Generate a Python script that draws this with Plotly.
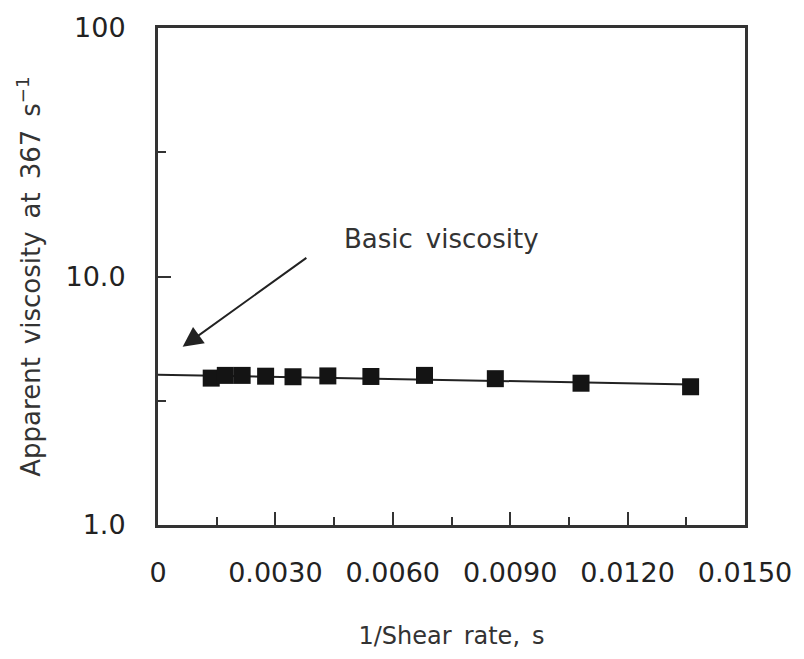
import math
import plotly.graph_objects as go

# Measured apparent viscosity vs reciprocal shear rate
inv_shear_rate = [0.00136, 0.00172, 0.00215, 0.00275, 0.00345, 0.00434,
                  0.00544, 0.00681, 0.00862, 0.01081, 0.01361]
viscosity = [3.90, 4.00, 4.00, 3.97, 3.95, 3.98, 3.96, 4.00, 3.88, 3.72, 3.60]

# Straight-line fit extrapolated to 1/shear rate = 0 (basic viscosity)
fit_x = [0.0, 0.01361]
fit_y = [4.02, 3.68]

x_tick_vals = [0, 0.003, 0.006, 0.009, 0.012, 0.015]
x_tick_text = ["0", "0.0030", "0.0060", "0.0090", "0.0120", "0.0150"]
x_minor_vals = [0.0015, 0.0045, 0.0075, 0.0105, 0.0135]

y_tick_vals = [1, 10, 100]
y_tick_text = ["1.0", "10.0", "100"]
y_minor_vals = [3.1623, 31.623]

# Arrow pointing at the intercept, and its label
arrow_head = (0.00063, 5.21)
arrow_tail = (0.00383, 12.0)
label_pos = (0.00471, 14.1)

FONT = "DejaVu Sans"
INK = "#222222"
AXIS = "#333333"
SP = "\u2002"  # wider word gap


def spaced(s):
    return s.replace(" ", SP)


fig = go.Figure()

fig.add_trace(go.Scatter(
    x=fit_x, y=fit_y, mode="lines",
    line=dict(color=INK, width=2),
    showlegend=False, hoverinfo="skip",
))

fig.add_trace(go.Scatter(
    x=inv_shear_rate, y=viscosity, mode="markers",
    marker=dict(symbol="square", size=17, color="#141414",
                line=dict(width=0)),
    showlegend=False,
))

fig.add_annotation(
    x=arrow_head[0], y=math.log10(arrow_head[1]),
    ax=arrow_tail[0], ay=math.log10(arrow_tail[1]),
    xref="x", yref="y", axref="x", ayref="y",
    showarrow=True, arrowhead=2, arrowsize=2.0, arrowwidth=2,
    arrowcolor=INK, text="",
)

fig.add_annotation(
    x=label_pos[0], y=math.log10(label_pos[1]),
    xref="x", yref="y", text=spaced("Basic viscosity"),
    showarrow=False, xanchor="left", yanchor="middle",
    font=dict(family=FONT, size=26, color="#333333"),
)

fig.update_xaxes(
    range=[0, 0.015],
    tickvals=x_tick_vals, ticktext=x_tick_text,
    ticks="inside", ticklen=13, tickwidth=2, tickcolor=AXIS,
    minor=dict(tickvals=x_minor_vals, ticks="inside", ticklen=8,
               tickwidth=2, tickcolor=AXIS),
    showline=True, linewidth=3, linecolor=AXIS, mirror=True,
    showgrid=False, zeroline=False,
    tickfont=dict(family=FONT, size=27, color=INK),
    ticklabelstandoff=22,
    title=dict(text=spaced("1/Shear rate, s"),
               font=dict(family=FONT, size=24, color="#333333"),
               standoff=40),
)

fig.update_yaxes(
    type="log", range=[0, 2],
    tickvals=y_tick_vals, ticktext=y_tick_text,
    ticks="inside", ticklen=13, tickwidth=2, tickcolor=AXIS,
    minor=dict(tickvals=y_minor_vals, ticks="inside", ticklen=8,
               tickwidth=2, tickcolor=AXIS),
    showline=True, linewidth=3, linecolor=AXIS, mirror=True,
    showgrid=False, zeroline=False,
    tickfont=dict(family=FONT, size=27, color=INK),
    ticklabelstandoff=24,
    title=dict(text=spaced("Apparent viscosity at 367 s") + "<sup>−1</sup>",
               font=dict(family=FONT, size=26, color="#333333"),
               standoff=18),
)

fig.update_layout(
    width=804, height=659,
    margin=dict(l=158, r=54, t=23, b=134),
    paper_bgcolor="white", plot_bgcolor="white",
)

fig.write_html("out.html")
